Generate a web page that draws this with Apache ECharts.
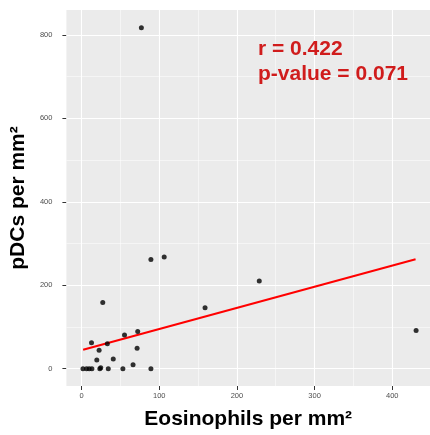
<!DOCTYPE html>
<html>
<head>
<meta charset="utf-8">
<script src="https://cdn.jsdelivr.net/npm/echarts@6/dist/echarts.min.js"></script>
<style>
  html, body { margin: 0; padding: 0; background: #fff; }
</style>
</head>
<body>
<div id="myChart" style="width:430px;height:435px"></div>
<script>
// values
var eosinophils = [1.8, 6.4, 9.8, 13.3, 23.5, 24.7, 34.4, 53.2, 66.3, 89.3,
  19.6, 40.8, 22.6, 71.5, 33.2, 12.8, 55.3, 72.3, 27.3, 89.3,
  106.4, 159, 228.8, 77, 430.7]
var pdcs = [0, 0, 0, 0, 0, 2, 0, 0, 9.6, 0,
  20.8, 23.2, 44, 48.7, 59.8, 62, 80.5, 89.4, 158.7, 261.5,
  267.7, 145.8, 210.3, 817.4, 91.8]

// ends of the fitted line
var fitX = [2, 430]
var fitY = [45.4, 262.2]

var xTicks = [0, 100, 200, 300, 400]
var xMinor = [50, 150, 250, 350]
var yTicks = [0, 200, 400, 600, 800]
var yMinor = [100, 300, 500, 700]

var statLines = ['r = 0.422', 'p-value = 0.071']

var font = 'Liberation Sans, Arial, sans-serif'

var points = eosinophils.map(function (x, i) { return [x, pdcs[i]] })
var fit = fitX.map(function (x, i) { return [x, fitY[i]] })

var gridLines = []
xTicks.forEach(function (v) { gridLines.push({ xAxis: v, lineStyle: { width: 1.1 } }) })
xMinor.forEach(function (v) { gridLines.push({ xAxis: v, lineStyle: { width: 0.5 } }) })
yTicks.forEach(function (v) { gridLines.push({ yAxis: v, lineStyle: { width: 1.1 } }) })
yMinor.forEach(function (v) { gridLines.push({ yAxis: v, lineStyle: { width: 0.5 } }) })

var myChart = echarts.init(document.getElementById('myChart'))

myChart.setOption({
  animation: false,
  textStyle: { fontFamily: font },
  grid: {
    left: 63, right: 0, top: 10, bottom: 48,
    show: true, backgroundColor: '#ebebeb', borderWidth: 0
  },
  xAxis: {
    type: 'value',
    min: -19.5,
    max: 448.6,
    name: 'Eosinophils per mm²',
    nameLocation: 'middle',
    nameGap: 23,
    nameTextStyle: { fontSize: 21, fontWeight: 'bold', color: '#000', fontFamily: font },
    axisLine: { show: true, onZero: false, lineStyle: { color: '#ebebeb', width: 0.01, opacity: 0 } },
    axisTick: { show: true, inside: false, length: 4, customValues: xTicks, lineStyle: { color: '#333', width: 1 } },
    axisLabel: { customValues: xTicks, fontSize: 7.5, color: '#4d4d4d', margin: 6 },
    splitLine: { show: false }
  },
  yAxis: {
    type: 'value',
    min: -41.5,
    max: 859.7,
    name: 'pDCs per mm²',
    nameLocation: 'middle',
    nameGap: 28.5,
    nameTextStyle: { fontSize: 21, fontWeight: 'bold', color: '#000', fontFamily: font },
    axisLine: { show: true, onZero: false, lineStyle: { color: '#ebebeb', width: 0.01, opacity: 0 } },
    axisTick: { show: true, inside: false, length: 4, customValues: yTicks, lineStyle: { color: '#333', width: 1 } },
    axisLabel: { customValues: yTicks, fontSize: 7.5, color: '#4d4d4d', margin: 14 },
    splitLine: { show: false }
  },
  graphic: [
    {
      type: 'text', left: 258, top: 39, z: 100,
      style: { text: statLines[0], fill: '#d01c1c', font: 'bold 21px ' + font }
    },
    {
      type: 'text', left: 258, top: 64, z: 100,
      style: { text: statLines[1], fill: '#d01c1c', font: 'bold 21px ' + font }
    }
  ],
  series: [
    {
      name: 'grid',
      type: 'line',
      data: [],
      z: 1,
      silent: true,
      markLine: {
        silent: true,
        z: 1,
        symbol: 'none',
        label: { show: false },
        lineStyle: { color: '#fff', type: 'solid' },
        data: gridLines
      }
    },
    {
      name: 'fit',
      type: 'line',
      data: fit,
      z: 3,
      showSymbol: false,
      lineStyle: { color: '#ff0000', width: 2 }
    },
    {
      name: 'points',
      type: 'scatter',
      data: points,
      z: 4,
      symbolSize: 5,
      itemStyle: { color: '#000' }
    }
  ]
})
</script>
</body>
</html>
